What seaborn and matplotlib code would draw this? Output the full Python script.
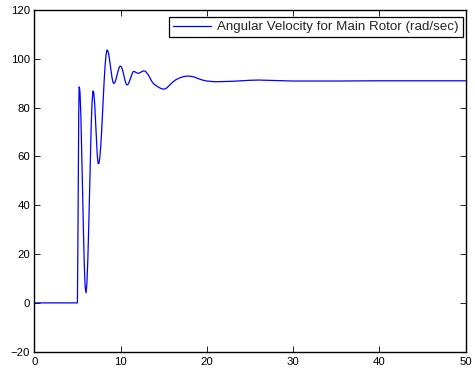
import numpy as np
import pandas as pd
import matplotlib
matplotlib.use("Agg")
import matplotlib.pyplot as plt
import seaborn as sns

time_s = [0, 1, 2, 3, 4, 4.9, 4.95, 5.0, 5.05, 5.1, 5.15, 5.2, 5.25, 5.3, 5.4, 5.5, 5.6,
          5.7, 5.8, 5.9, 6.0, 6.1, 6.2, 6.3, 6.4, 6.5, 6.6, 6.7, 6.8, 6.9, 7.0,
          7.1, 7.2, 7.3, 7.4, 7.5, 7.6, 7.7, 7.8, 7.9, 8.0, 8.1, 8.2, 8.3, 8.4,
          8.45, 8.5, 8.6, 8.7, 8.8, 8.9, 9.0, 9.1, 9.2, 9.3, 9.4, 9.5, 9.6, 9.7,
          9.8, 9.9, 10.0, 10.1, 10.2, 10.3, 10.4, 10.5, 10.6, 10.7, 10.8, 10.9,
          11.0, 11.1, 11.2, 11.3, 11.4, 11.5, 11.6, 11.7, 11.8, 11.9, 12.0, 12.1,
          12.2, 12.3, 12.4, 12.5, 12.6, 12.7, 12.8, 12.9, 13.0, 13.2, 13.4, 13.6,
          13.8, 14.0, 14.2, 14.4, 14.6, 14.8, 15.0, 15.2, 15.4, 15.6, 15.8, 16.0,
          16.4, 16.8, 17.2, 17.6, 18.0, 18.5, 19.0, 19.5, 20.0, 21, 22, 23, 24,
          25, 26, 27, 28, 29, 30, 32, 35, 40, 45, 50]
omega = [0, 0, 0, 0, 0, 0, 0, 0, 22, 52, 77, 88.5, 88, 86, 76.7, 62, 45.7,
         29, 15, 6.3, 4.1, 8, 17, 29.7, 44.7, 59.8, 72.9, 82.3, 86.8, 86, 81.6,
         74.6, 66.9, 60.6, 57.1, 57.2, 59.6, 64, 69.9, 76.9, 84.2, 91, 96.8, 101, 103.3,
         103.6, 103.5, 102.4, 100.3, 97.7, 95, 92.5, 90.7, 89.9, 90.1, 90.8, 92, 93.4, 94.8,
         96, 96.8, 97, 96.7, 95.8, 94.5, 92.9, 91.4, 90.1, 89.4, 89.3, 89.7,
         90.5, 91.5, 92.6, 93.6, 94.4, 94.8, 94.8, 94.6, 94.4, 94.2, 94.1, 94.1,
         94.2, 94.4, 94.6, 94.8, 95, 95, 95, 94.8, 94.4, 93.5, 92.3, 90.9,
         89.9, 89.3, 88.8, 88.4, 88.0, 87.7, 87.6, 87.7, 88.2, 88.9, 89.6, 90.3,
         91.4, 92.1, 92.6, 92.9, 92.9, 92.6, 91.9, 91.3, 90.9, 90.6, 90.7, 90.8, 91.0,
         91.2, 91.3, 91.2, 91.1, 91.0, 90.9, 90.9, 90.9, 91.0, 91.0, 91.0]

x_ticks = [0, 10, 20, 30, 40, 50]
y_ticks = [-20, 0, 20, 40, 60, 80, 100, 120]
label = "Angular Velocity for Main Rotor (rad/sec)"

df = pd.DataFrame({"t": time_s, "w": omega})

sns.set_theme(style="white")
plt.rcParams["font.family"] = ["Liberation Sans", "DejaVu Sans"]

fig = plt.figure(figsize=(4.75, 3.74), dpi=100)
ax = fig.add_axes([34.3 / 475, 1 - 351.7 / 374, (465.5 - 34.3) / 475, (351.7 - 10) / 374])
sns.lineplot(data=df, x="t", y="w", ax=ax, color="#0000ff", linewidth=0.9,
             label=label, sort=False, estimator=None)

ax.set_xlim(0, 50)
ax.set_ylim(-20, 120)
ax.set_xticks(x_ticks)
ax.set_yticks(y_ticks)
ax.set_xticklabels([str(v) for v in x_ticks])
ax.set_yticklabels([str(v).replace("-", "\u2212") for v in y_ticks])
ax.set_xlabel("")
ax.set_ylabel("")
for s in ax.spines.values():
    s.set_visible(True)
    s.set_color("black")
    s.set_linewidth(1.0)
ax.tick_params(direction="in", length=4, width=0.6, color="black",
               top=True, right=True, bottom=True, left=True,
               labelsize=8.2, labelcolor="black")
ax.tick_params(axis="x", pad=4)
ax.tick_params(axis="y", pad=3)
leg = ax.legend(loc="upper right", bbox_to_anchor=(0.9942, 0.9795),
                fontsize=9.6, frameon=True, fancybox=False,
                handlelength=2.9, borderpad=0.3, borderaxespad=0.0,
                handletextpad=0.45)
leg.get_frame().set_edgecolor("black")
leg.get_frame().set_linewidth(0.9)
leg.get_frame().set_alpha(1)

fig.savefig("out.png", dpi=100)
